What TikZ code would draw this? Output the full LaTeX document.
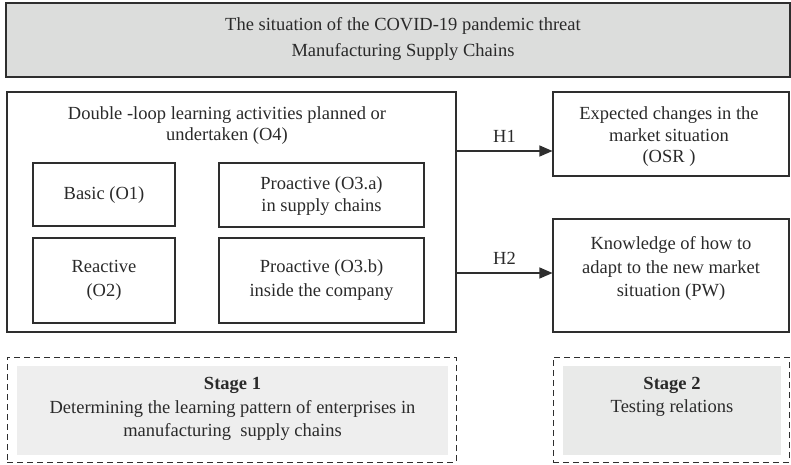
\documentclass[tikz,border=0pt]{standalone}
\usepackage{fontspec}
\setmainfont{Liberation Serif}
\usetikzlibrary{arrows.meta}
\definecolor{topgray}{HTML}{DCDDDC}
\definecolor{stagegray}{HTML}{EEEEEE}
\definecolor{stagegraytwo}{HTML}{E9EAE9}
\definecolor{edge}{HTML}{2E2E2E}
\definecolor{ink}{HTML}{2A2A2A}
\tikzset{
  box/.style={draw=edge, line width=1.1pt, rectangle, inner sep=0pt},
  txt/.style={inner sep=0pt, align=center, font=\fontsize{18.5}{22}\selectfont, text=ink},
  dashbox/.style={draw=edge, dash pattern=on 6pt off 4pt, line width=1pt, rectangle, inner sep=0pt},
  stagefill/.style={rectangle, inner sep=0pt},
  arr/.style={draw=edge, line width=1.1pt, -{Triangle[length=13pt,width=11pt]}}
}
\begin{document}
\begin{tikzpicture}[x=1pt,y=-1pt]
\useasboundingbox (0,0) rectangle (791,464);
% top banner
\node[box, fill=topgray, line width=1.5pt, minimum width=784pt, minimum height=74pt] (top) at (398,40) {};
\node[txt, font=\fontsize{18.5}{26}\selectfont] (toptxt) at (403,39) {The situation of the COVID-19 pandemic threat\\Manufacturing Supply Chains};
% left group
\node[box, minimum width=449pt, minimum height=240pt] (left) at (231.5,212) {};
\node[txt, font=\fontsize{18.5}{21.5}\selectfont] (lefttitle) at (227,125.5) {Double -loop learning activities planned or\\undertaken (O4)};
\node[box, minimum width=142pt, minimum height=63pt] (basic) at (104,194.5) {};
\node[txt] (basictxt) at (104,195) {Basic (O1)};
\node[box, minimum width=205pt, minimum height=64pt] (pa) at (321.5,195) {};
\node[txt] (patxt) at (321.5,196) {Proactive (O3.a)\\in supply chains};
\node[box, minimum width=142pt, minimum height=85pt] (react) at (104,280.5) {};
\node[txt, font=\fontsize{18.5}{24}\selectfont] (reacttxt) at (104,280) {Reactive\\(O2)};
\node[box, minimum width=205pt, minimum height=85pt] (pb) at (321.5,280.5) {};
\node[txt, font=\fontsize{18.5}{24}\selectfont] (pbtxt) at (321.5,280) {Proactive (O3.b)\\inside the company};
% right boxes
\node[box, minimum width=236pt, minimum height=84pt] (osr) at (671,134) {};
\node[txt, font=\fontsize{18.5}{21.5}\selectfont] (osrtxt) at (669,137) {Expected changes in the\\market situation\\(OSR )};
\node[box, minimum width=236pt, minimum height=113pt] (pw) at (671,275.5) {};
\node[txt, font=\fontsize{18.5}{23.5}\selectfont] (pwtxt) at (671,268.5) {Knowledge of how to\\adapt to the new market\\situation (PW)};
% arrows
\coordinate (h1) at (0,151);
\coordinate (h2) at (0,273);
\draw[arr] (left.east |- h1) -- node[txt, above=8pt] (h1lab) {H1} (osr.west |- h1);
\draw[arr] (left.east |- h2) -- node[txt, above=8pt] (h2lab) {H2} (pw.west |- h2);
% stages
\node[dashbox, minimum width=449pt, minimum height=105pt] (s1out) at (231.5,409.5) {};
\node[stagefill, fill=stagegray, minimum width=431pt, minimum height=89pt] (s1) at (232.5,410.5) {};
\node[txt, font=\fontsize{18.5}{23.5}\selectfont] (s1txt) at (232.5,409) {\textbf{Stage 1}\\Determining the learning pattern of enterprises in\\manufacturing\ \ supply chains};
\node[dashbox, minimum width=236pt, minimum height=105pt] (s2out) at (671,409.5) {};
\node[stagefill, fill=stagegraytwo, minimum width=218pt, minimum height=89pt] (s2) at (672,410.5) {};
\node[txt, font=\fontsize{18.5}{23.5}\selectfont] (s2txt) at (672,397) {\textbf{Stage 2}\\Testing relations};
\end{tikzpicture}
\end{document}
